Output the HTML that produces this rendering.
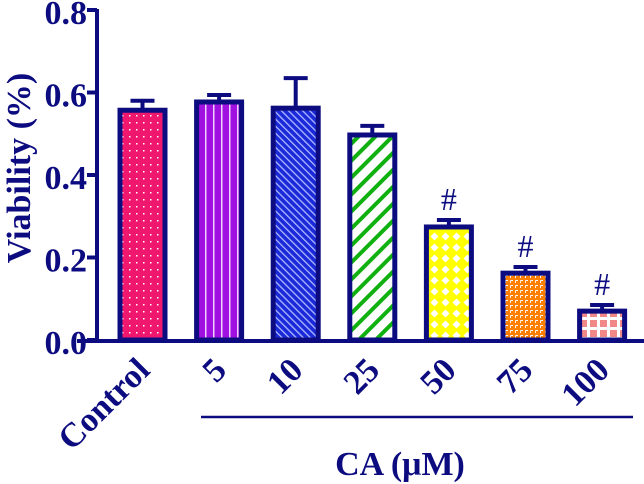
<!DOCTYPE html>
<html><head><meta charset="utf-8"><style>
html,body{margin:0;padding:0;background:#fff;}
svg{display:block;}
text{font-family:"Liberation Serif",serif;font-weight:bold;fill:#0c0c80;}
</style></head><body>
<svg id="chart" width="644" height="484" viewBox="0 0 644 484">
<defs>
<pattern id="p0" width="7" height="7" patternUnits="userSpaceOnUse"><rect width="7" height="7" fill="#f0186e"/><rect x="3" y="3" width="1.5" height="1.5" fill="#fff"/></pattern>
<pattern id="p1" width="8" height="8" patternUnits="userSpaceOnUse"><rect width="8" height="8" fill="#a010e0"/><rect x="5" width="1.5" height="8" fill="#f0d0ff"/></pattern>
<pattern id="p2" width="5" height="5" patternUnits="userSpaceOnUse" patternTransform="rotate(-45)"><rect width="5" height="5" fill="#1a2ad8"/><rect width="1.3" height="5" fill="#b0b8ff"/></pattern>
<pattern id="p3" width="12" height="12" patternUnits="userSpaceOnUse" patternTransform="rotate(45)"><rect width="12" height="12" fill="#fff"/><rect width="4" height="12" fill="#10b010"/></pattern>
<pattern id="p4" width="11" height="11" patternUnits="userSpaceOnUse"><rect width="11" height="11" fill="#ffff00"/><path d="M5.5 1.5 L9.5 5.5 L5.5 9.5 L1.5 5.5Z" fill="#fff"/></pattern>
<pattern id="p5" width="5" height="5" patternUnits="userSpaceOnUse"><rect width="5" height="5" fill="#ff8000"/><path d="M0.5 0.5 H3 M0.5 0.5 V3" stroke="#fff" stroke-width="0.9" fill="none"/></pattern>
<pattern id="p6" width="10" height="10" patternUnits="userSpaceOnUse"><rect width="10" height="10" fill="#fff"/><rect x="0" y="0" width="7" height="7" fill="#f08888"/></pattern>
</defs>
<g id="bars"></g>
<g id="axes"></g>
</svg>
<script>
const categories = ["Control","5","10","25","50","75","100"];
const values = [0.557,0.577,0.562,0.497,0.274,0.162,0.070];
const errors = [0.023,0.017,0.073,0.022,0.017,0.015,0.015];
const marks = ["","","","","#","#","#"];
const yTicks = [0.0,0.2,0.4,0.6,0.8];
const yTickLabels = ["0.0","0.2","0.4","0.6","0.8"];

const NS = "http://www.w3.org/2000/svg";
const x0 = 97, step = 76.6, firstCenter = 142.5, barW = 45;
const yBase = 340, yTop = 10, yMax = 0.8;
function xScale(i){ return firstCenter + i*step; }
function yScale(v){ return yBase - (v/yMax)*(yBase-yTop); }
function el(tag, attrs, parent){ const e=document.createElementNS(NS,tag); for(const k in attrs) e.setAttribute(k,attrs[k]); parent.appendChild(e); return e; }
const C="#0c0c80";
const gb=document.getElementById("bars"), ga=document.getElementById("axes");

categories.forEach((c,i)=>{
  const cx=xScale(i), yv=yScale(values[i]), ye=yScale(values[i]+errors[i]);
  const ln=el("line",{x1:cx,x2:cx,y1:yv,y2:ye,stroke:C,"stroke-width":4},gb);
  
  
  const cap=el("line",{x1:cx-12,x2:cx+12,y1:ye,y2:ye,stroke:C,"stroke-width":4},gb);
  
  
  const r=el("rect",{x:cx-barW/2,y:yv,width:barW,height:yBase-yv,fill:"url(#p"+i+")",stroke:C,"stroke-width":5},gb);
  
  
  if(marks[i]){
    const t=el("text",{x:cx,y:ye-10,"text-anchor":"middle","font-size":"32px",style:"font-weight:normal"},gb);
    t.textContent=marks[i];
    
    
  }
  const lab=el("text",{x:0,y:0,"text-anchor":"end","font-size":"34px",transform:"translate("+(cx+9)+",372) rotate(-45)"},ga);
  lab.textContent=c;
  
  
});

const ya=el("line",{x1:x0,x2:x0,y1:yTop-1,y2:yBase+2,stroke:C,"stroke-width":4},ga);


const xa=el("line",{x1:77,x2:644,y1:yBase+1,y2:yBase+1,stroke:C,"stroke-width":4},ga);


yTicks.forEach((v,i)=>{
  const y=yScale(v);
  const tk=el("line",{x1:x0-10,x2:x0,y1:y,y2:y,stroke:C,"stroke-width":4},ga);
  
  
  const t=el("text",{x:87,y:y+14,"text-anchor":"end","font-size":"34px"},ga);
  t.textContent=yTickLabels[i];
  
  
});
const yt=el("text",{x:0,y:0,"text-anchor":"middle","font-size":"34px",transform:"translate(30,168) rotate(-90)"},ga);
yt.textContent="Viability (%)";


const ul=el("line",{x1:201,x2:633,y1:417,y2:417,stroke:C,"stroke-width":2.5},ga);


const xt=el("text",{x:400,y:475,"text-anchor":"middle","font-size":"34px"},ga);
xt.textContent="CA (μM)";


</script>
</body></html>
